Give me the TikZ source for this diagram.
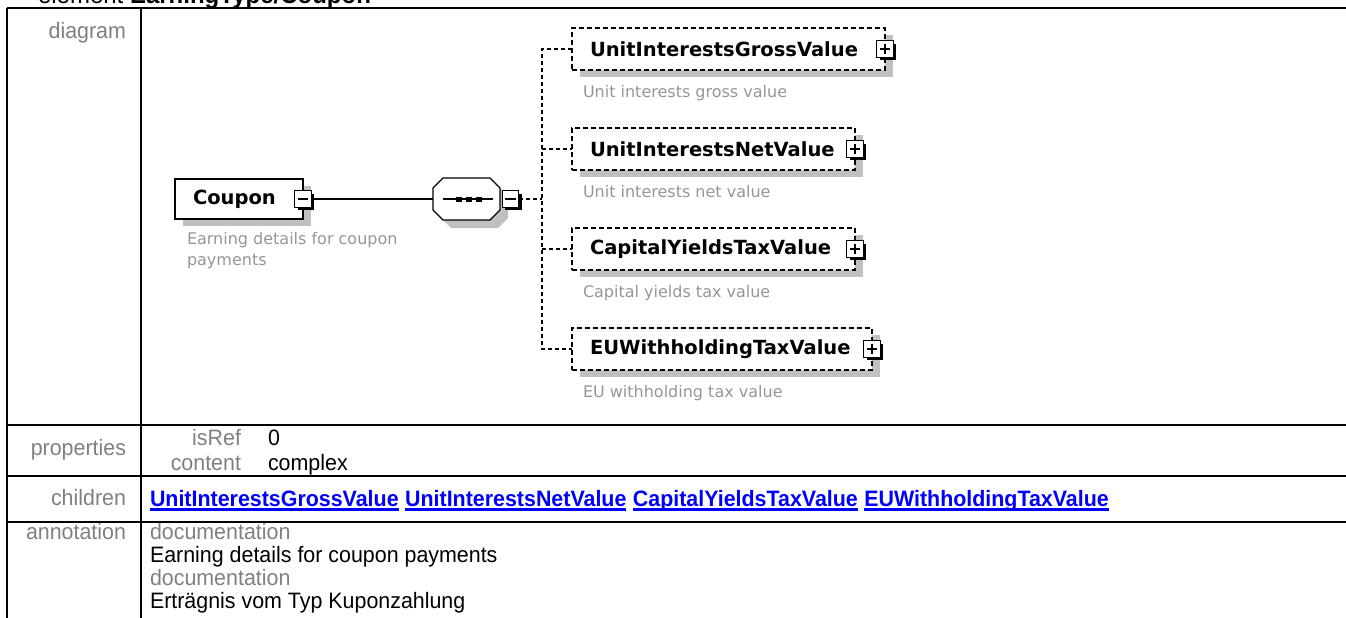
\documentclass[tikz,border=0pt]{standalone}
\usepackage{fontspec}
\setmainfont{Liberation Sans}[FakeStretch=0.96]
\newfontfamily\dv{DejaVu Sans}
\usetikzlibrary{shadows,calc}
\definecolor{shadowgray}{RGB}{192,192,192}
\definecolor{descgray}{RGB}{150,150,150}
\definecolor{labelgray}{RGB}{128,128,128}
\definecolor{linkblue}{RGB}{0,0,255}
\newcommand\etxt[2]{\makebox[#1][l]{\hspace*{18pt}#2}}
\begin{document}
\begin{tikzpicture}[x=1pt,y=-1pt,
  every node/.style={inner sep=0pt, outer sep=0pt},
  tbl/.style={line width=2.6pt},
  lbl/.style={text=labelgray, font=\fontsize{22.3}{25}\selectfont, anchor=base east},
  val/.style={text=black, font=\fontsize{22.3}{25}\selectfont, anchor=base west},
  doclbl/.style={val, text=labelgray},
  link/.style={text=linkblue, font=\bfseries\fontsize{22.3}{25}\selectfont, anchor=base west},
  uline/.style={linkblue, line width=2.4pt},
  elem/.style={draw, line width=1.3pt, fill=white, minimum height=40pt, anchor=west,
    font=\dv\bfseries\fontsize{19.5}{22}\selectfont,
    drop shadow={shadow xshift=8pt, shadow yshift=-7pt, fill=shadowgray, opacity=1}},
  optelem/.style={elem, dash pattern=on 5pt off 3pt, minimum height=42pt},
  desc/.style={text=descgray, font=\dv\fontsize{16}{20}\selectfont, anchor=mid west},
  btn/.style={draw, line width=1.2pt, fill=white, minimum size=16.5pt,
    general shadow={shadow xshift=3pt, shadow yshift=-3pt, fill=black}},
  minusbtn/.style={btn, path picture={\draw[line width=1.3pt]
      ([xshift=3pt]path picture bounding box.west) -- ([xshift=-3pt]path picture bounding box.east);}},
  plusbtn/.style={btn, path picture={\draw[line width=1.3pt]
      ([xshift=3pt]path picture bounding box.west) -- ([xshift=-3pt]path picture bounding box.east)
      ([yshift=-3pt]path picture bounding box.north) -- ([yshift=3pt]path picture bounding box.south);}},
  conn/.style={line width=1.3pt},
  optconn/.style={line width=1.3pt, dash pattern=on 4pt off 3pt},
]
\useasboundingbox (0,0) rectangle (1346,618);
\clip (0,0) rectangle (1346,618);

% title (mostly cut off at the top)
\node[anchor=base west, font=\fontsize{25}{28}\selectfont] (title) at (38,3.5)
  {element \textbf{EarningType/Coupon}};

% table frame
\draw[tbl] (7,8) -- (1352,8);
\draw[tbl] (7,8) -- (7,625);
\draw[tbl] (141,8) -- (141,625);
\draw[tbl] (7,425) -- (1352,425);
\draw[tbl] (7,476) -- (1352,476);
\draw[tbl] (7,522) -- (1352,522);

% left column labels
\node[lbl] (ldiagram) at (126,38.5) {diagram};
\node[lbl] (lprops) at (126,455) {properties};
\node[lbl] (lchildren) at (126,505.5) {children};
\node[lbl] (lannot) at (126,539) {annotation};

% properties
\node[lbl] (pisref) at (241,445) {isRef};
\node[val] (visref) at (268,445) {0};
\node[lbl] (pcontent) at (241,470) {content};
\node[val] (vcontent) at (268,470) {complex};

% children links
\node[link] (l1) at (150,506) {UnitInterestsGrossValue};
\node[link] (l2) at ($(l1.base east)+(6.5,0)$) {UnitInterestsNetValue};
\node[link] (l3) at ($(l2.base east)+(6.5,0)$) {CapitalYieldsTaxValue};
\node[link] (l4) at ($(l3.base east)+(6.5,0)$) {EUWithholdingTaxValue};
\foreach \l in {l1,l2,l3,l4}{
  \draw[uline] ([yshift=-3.5pt]\l.base west) -- ([yshift=-3.5pt]\l.base east);
}

% annotation
\node[doclbl] (doc1) at (150,539) {documentation};
\node[val] (doct1) at (150,562) {Earning details for coupon payments};
\node[doclbl] (doc2) at (150,585) {documentation};
\node[val] (doct2) at (150,608) {Erträgnis vom Typ Kuponzahlung};

% ---------- diagram ----------
% Coupon element
\node[elem] (coupon) at (175,199) {\etxt{128pt}{Coupon}};
\node[minusbtn] (cbtn) at (coupon.east) {};
\node[desc] (cdesc1) at (187,242) {Earning details for coupon};
\node[desc] (cdesc2) at (187,263) {payments};

% sequence compositor
\node[minimum width=67pt, minimum height=42pt] (seq) at (466.5,199) {};
\fill[shadowgray] (441,196) -- (451,186) -- (498,186) -- (508,196) -- (508,218) -- (498,228) -- (451,228) -- (441,218) -- cycle;
\draw[line width=1.3pt, fill=white] (433,188) -- (443,178) -- (490,178) -- (500,188) -- (500,210) -- (490,220) -- (443,220) -- (433,210) -- cycle;
\draw[line width=1.3pt] (443,199) -- (493,199);
\foreach \cx in {458.5,468.5,478.5}{
  \fill (\cx-3,196.5) rectangle (\cx+3,201.5);
}
\node[minusbtn] (sbtn) at (510.5,199) {};

\draw[conn] (cbtn.east) -- (seq.west);

% children
\node[optelem] (c1) at (572,49)  {\etxt{313pt}{UnitInterestsGrossValue}};
\node[optelem] (c2) at (572,149) {\etxt{283pt}{UnitInterestsNetValue}};
\node[optelem] (c3) at (572,249) {\etxt{283pt}{CapitalYieldsTaxValue}};
\node[optelem] (c4) at (572,349) {\etxt{300pt}{EUWithholdingTaxValue}};
\foreach \c in {c1,c2,c3,c4}{
  \node[plusbtn] (\c btn) at (\c.east) {};
}
\node[desc] (d1) at (583,95)  {Unit interests gross value};
\node[desc] (d2) at (583,195) {Unit interests net value};
\node[desc] (d3) at (583,295) {Capital yields tax value};
\node[desc] (d4) at (583,395) {EU withholding tax value};

% connectors from sequence to children
\coordinate (j) at (542,199);
\draw[optconn] (sbtn.east) -- (j);
\draw[optconn] (c1.west) -- (j |- c1.west) -- (j |- c4.west) -- (c4.west);
\draw[optconn] (j |- c2.west) -- (c2.west);
\draw[optconn] (j |- c3.west) -- (c3.west);
\end{tikzpicture}
\end{document}
